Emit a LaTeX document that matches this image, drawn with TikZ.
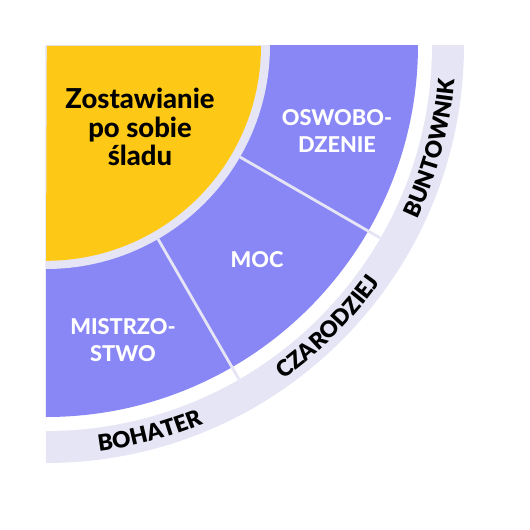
\documentclass[tikz,border=0pt]{standalone}
\usepackage{fontspec}
\setmainfont{Lato}
\newfontfamily\latoheavy{Lato Black}
\newfontfamily\latostrong{Lato Heavy}
\usetikzlibrary{%
		decorations.text%
	}
\definecolor{sladyellow}{RGB}{253,201,22}
\definecolor{sectorviolet}{RGB}{137,135,245}
\definecolor{ringlavender}{RGB}{230,229,245}
\tikzset{
	sector/.style={fill=sectorviolet},
	ring/.style={fill=ringlavender},
	divider/.style={draw=ringlavender, line width=2pt},
	innerlabel/.style={text=white, font=\latostrong\fontsize{15.5}{19.5}\selectfont, align=center},
	ringlabel/.style={decorate, decoration={text along path, text align=center,
		text={|\latoheavy\fontsize{16}{18}\selectfont|#1}}}
}

\begin{document}
\begin{tikzpicture}[scale=0.025]
			\useasboundingbox (-46,-485) rectangle (484,45);
			
			% outer ring
			\fill[ring] (0,0) -- (0:418) arc [start angle=0, end angle=-90, radius=418] -- cycle;
			\fill[white] (0,0) -- (0:386) arc [start angle=0, end angle=-90, radius=386] -- cycle;
			
			% sectors
			\fill[sector] (0,0) -- (0:372) arc [start angle=0, end angle=-90, radius=372] -- cycle;
			\fill[ring] (0,0) -- (0:224) arc [start angle=0, end angle=-90, radius=224] -- cycle;
			\fill[sladyellow] (0.8,-0.8) -- (215,-0.8) arc [start angle=0, end angle=-90, radius=215] -- cycle;
			
			% dividers
			\coordinate (d1a) at (-30:224);
			\coordinate (d1b) at (-30:386);
			\coordinate (d2a) at (-60:224);
			\coordinate (d2b) at (-60:386);
			\draw[divider] (d1a) -- (d1b);
			\draw[divider] (d2a) -- (d2b);
			
			% labels
			\node[font=\latostrong\fontsize{19.5}{20.5}\selectfont, align=center] (slad) at (94,-82) {Zostawianie\\po sobie\\śladu};
			\node[innerlabel] (mistrzostwo) at (77,-295) {MISTRZO-\\STWO};
			\node[innerlabel] (moc) at (211,-215) {MOC};
			\node[innerlabel] (oswobodzenie) at (291,-86) {OSWOBO-\\DZENIE};
			
			% ring texts
			\path[ringlabel=BOHATER] (-90:410) arc [start angle=-90, end angle=-60, radius=410];
			\path[ringlabel=CZARODZIEJ] (-60:410) arc [start angle=-60, end angle=-30, radius=410];
			\path[ringlabel=BUNTOWNIK] (-30:410) arc [start angle=-30, end angle=0, radius=410];
		\end{tikzpicture}
\end{document}
